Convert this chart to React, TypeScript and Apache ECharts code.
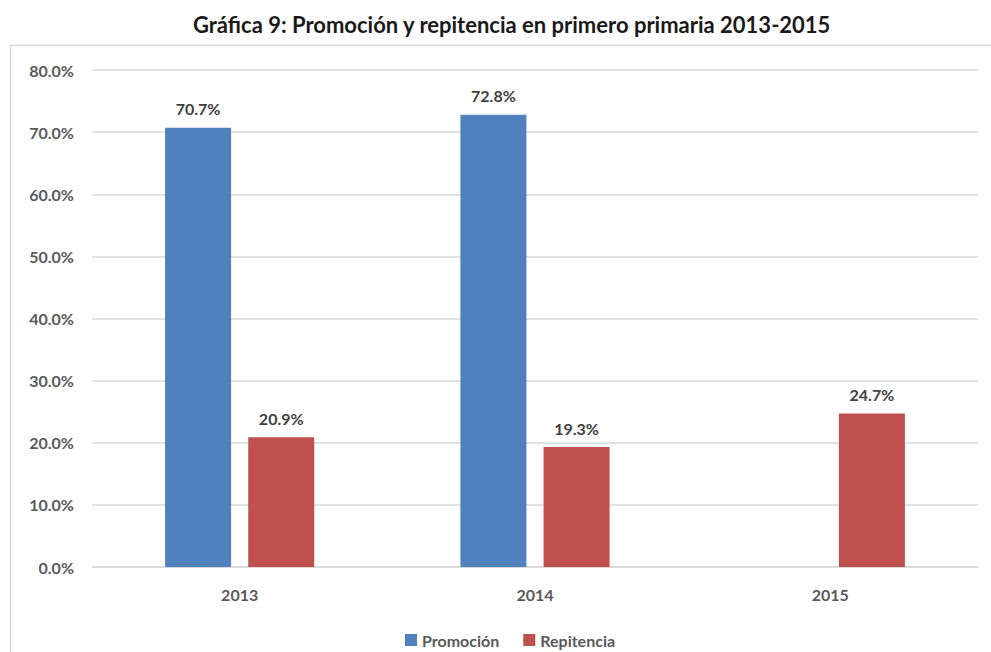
import React, { useEffect, useRef } from "react";
import * as echarts from "echarts";

const categories = ["2013", "2014", "2015"];
const promocion: (number | null)[] = [70.7, 72.8, null];
const repitencia: number[] = [20.9, 19.3, 24.7];
const titleText = "Gráfica 9: Promoción y repitencia en primero primaria 2013-2015";

export default function App() {
  const ref = useRef<HTMLDivElement>(null);
  useEffect(() => {
    if (!ref.current) return;
    const chart = echarts.init(ref.current, null, { renderer: "svg" });
    const font = "Lato, 'Open Sans', sans-serif";
    const labelCfg = {
      show: true,
      position: "top",
      distance: 11,
      formatter: (p: any) => (p.value == null ? "" : p.value.toFixed(1) + "%"),
      color: "#404040",
      fontWeight: "bold",
      fontSize: 16,
      fontFamily: font,
    };
    chart.setOption({
      animation: false,
      backgroundColor: "#ffffff",
      title: {
        text: titleText,
        left: 188,
        top: 8,
        textStyle: { fontFamily: font, fontWeight: "bold", fontSize: 22, color: "#1a1a1a" },
      },
      graphic: [
        {
          type: "rect",
          shape: { x: 10.5, y: 45.5, width: 990, height: 620 },
          style: { fill: "none", stroke: "#d9d9d9", lineWidth: 1.5 },
          silent: true,
        },
      ],
      legend: {
        bottom: -1,
        left: 400,
        itemWidth: 12,
        itemHeight: 12,
        itemGap: 24,
        icon: "rect",
        textStyle: { fontFamily: font, fontWeight: "bold", fontSize: 16, color: "#595959" },
        data: ["Promoción", "Repitencia"],
      },
      grid: { left: 92, right: 13, top: 70, bottom: 85 },
      xAxis: {
        type: "category",
        data: categories,
        axisTick: { show: false },
        axisLine: { lineStyle: { color: "#d9d9d9", width: 1.5 } },
        axisLabel: {
          margin: 19,
          fontFamily: font,
          fontWeight: "bold",
          fontSize: 16,
          color: "#595959",
        },
      },
      yAxis: {
        type: "value",
        min: 0,
        max: 80,
        interval: 10,
        axisLine: { show: false },
        axisTick: { show: false },
        splitLine: { lineStyle: { color: "#d9d9d9", width: 1.5 } },
        axisLabel: {
          formatter: (v: number) => v.toFixed(1) + "%",
          margin: 18,
          fontFamily: font,
          fontWeight: "bold",
          fontSize: 16,
          color: "#595959",
        },
      },
      series: [
        {
          name: "Promoción",
          type: "bar",
          data: promocion,
          barWidth: 66,
          barGap: "26%",
          itemStyle: { color: "#4f81bd" },
          label: labelCfg,
        },
        {
          name: "Repitencia",
          type: "bar",
          data: repitencia,
          barWidth: 66,
          barGap: "26%",
          itemStyle: { color: "#c0504d" },
          label: labelCfg,
        },
      ],
    });
    return () => chart.dispose();
  }, []);
  return <div ref={ref} style={{ width: 991, height: 652, position: "fixed", left: 0, top: 0 }} />;
}
